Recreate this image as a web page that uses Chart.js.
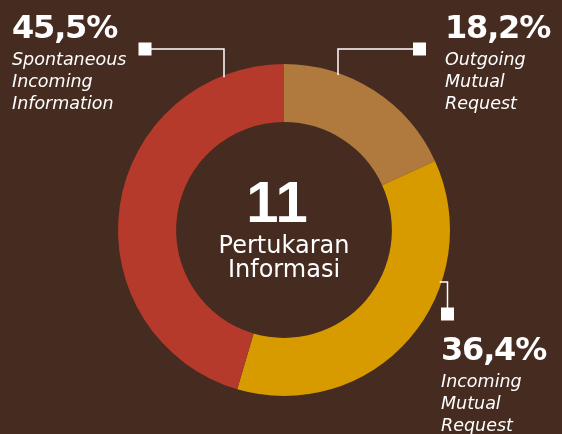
<!DOCTYPE html>
<html lang="en">
<head>
    <meta charset="UTF-8">
    <title>Pertukaran Informasi</title>
    <script src="https://cdn.jsdelivr.net/npm/chart.js"></script>
    <style>
        body {
            margin: 0;
            background-color: #452b20;
        }
        canvas {
            display: block;
        }
    </style>
</head>
<body>
    <canvas id="exchangeChart" width="562" height="434"></canvas>
    <script>
        // data
        const categories = ['Outgoing Mutual Request', 'Incoming Mutual Request', 'Spontaneous Incoming Information'];
        const labelLines = [['Outgoing', 'Mutual', 'Request'], ['Incoming', 'Mutual', 'Request'], ['Spontaneous', 'Incoming', 'Information']];
        const counts = [2, 4, 5];
        const percentLabels = ['18,2%', '36,4%', '45,5%'];
        const centerCaption = ['Pertukaran', 'Informasi'];

        const sliceColors = ['#b07a3e', '#d79b00', '#b53a2c'];
        const numFont = 'bold 32px "DejaVu Sans"';
        const labelFont = 'italic 17.5px "DejaVu Sans"';

        // where each callout sits: text block + leader line elbow
        const callouts = [
            { tx: 445, ty: 38, box: [419.5, 49], elbow: 'top', lineX: 338 },
            { tx: 441, ty: 360, box: [447.5, 314], elbow: 'side', lineY: 282 },
            { tx: 12, ty: 38, box: [145, 49], elbow: 'top', lineX: 224 }
        ];

        const calloutPlugin = {
            id: 'callouts',
            afterDraw(chart) {
                const ctx = chart.ctx;
                const arc = chart.getDatasetMeta(0).data[0];
                const cx = arc.x, cy = arc.y, R = arc.outerRadius;
                ctx.save();
                ctx.strokeStyle = '#ffffff';
                ctx.fillStyle = '#ffffff';
                ctx.lineWidth = 1.5;
                callouts.forEach((c, i) => {
                    // leader line
                    ctx.beginPath();
                    if (c.elbow === 'top') {
                        const ringY = cy - Math.sqrt(R * R - (c.lineX - cx) * (c.lineX - cx));
                        ctx.moveTo(c.box[0], c.box[1]);
                        ctx.lineTo(c.lineX, c.box[1]);
                        ctx.lineTo(c.lineX, ringY + 2);
                    } else {
                        const ringX = cx + Math.sqrt(R * R - (c.lineY - cy) * (c.lineY - cy));
                        ctx.moveTo(c.box[0], c.box[1]);
                        ctx.lineTo(c.box[0], c.lineY);
                        ctx.lineTo(ringX - 2, c.lineY);
                    }
                    ctx.stroke();
                    ctx.fillRect(c.box[0] - 6.5, c.box[1] - 6.5, 13, 13);

                    // percent + label
                    ctx.textAlign = 'left';
                    ctx.textBaseline = 'alphabetic';
                    ctx.font = numFont;
                    ctx.letterSpacing = '-1.2px';
                    ctx.fillText(percentLabels[i], c.tx, c.ty);
                    ctx.font = labelFont;
                    ctx.letterSpacing = '0px';
                    labelLines[i].forEach((ln, k) => {
                        ctx.fillText(ln, c.tx, c.ty + 27 + k * 22);
                    });
                });

                // centre total
                const total = counts.reduce((a, b) => a + b, 0);
                ctx.textAlign = 'center';
                ctx.font = 'bold 58px "Liberation Sans"';
                ctx.letterSpacing = '0px';
                ctx.fillText(String(total), cx - 7, 222);
                ctx.font = '24px "DejaVu Sans"';
                ctx.fillText(centerCaption[0], cx, 253);
                ctx.fillText(centerCaption[1], cx, 277);
                ctx.restore();
            }
        };

        new Chart(document.getElementById('exchangeChart'), {
            type: 'doughnut',
            data: {
                labels: categories,
                datasets: [{
                    data: counts,
                    backgroundColor: sliceColors,
                    borderWidth: 0
                }]
            },
            options: {
                responsive: false,
                animation: false,
                cutout: '65%',
                layout: {
                    padding: { top: 64, bottom: 38, left: 118, right: 112 }
                },
                plugins: {
                    legend: { display: false },
                    tooltip: { enabled: false }
                }
            },
            plugins: [calloutPlugin]
        });
    </script>
</body>
</html>
